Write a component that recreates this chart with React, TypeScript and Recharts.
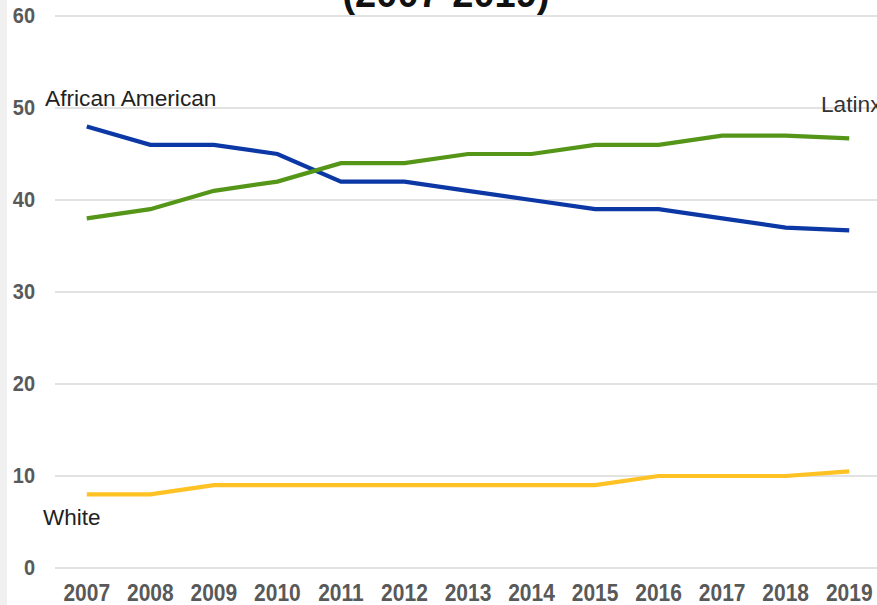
import { LineChart, Line, XAxis, YAxis, CartesianGrid, Customized } from 'recharts';

const years = [2007, 2008, 2009, 2010, 2011, 2012, 2013, 2014, 2015, 2016, 2017, 2018, 2019];
const africanAmerican = [48, 46, 46, 45, 42, 42, 41, 40, 39, 39, 38, 37, 36.7];
const latinx = [38, 39, 41, 42, 44, 44, 45, 45, 46, 46, 47, 47, 46.7];
const white = [8, 8, 9, 9, 9, 9, 9, 9, 9, 10, 10, 10, 10.5];
const yTicks = [0, 10, 20, 30, 40, 50, 60];

const data = years.map((year, i) => ({
  year,
  africanAmerican: africanAmerican[i],
  latinx: latinx[i],
  white: white[i],
}));

const FONT = '"Liberation Sans", Arial, sans-serif';
const tickColor = '#595959';

const YTick = (props: any) => {
  const { y, payload } = props;
  return (
    <text
      transform={`translate(35, ${y + 7}) scale(1, 1.08)`}
      textAnchor="end"
      fill={tickColor}
      fontSize={20}
      fontWeight="bold"
      fontFamily={FONT}
    >
      {payload.value}
    </text>
  );
};

const XTick = (props: any) => {
  const { x, payload } = props;
  return (
    <text
      transform={`translate(${x}, 601) scale(1, 1.12)`}
      textAnchor="middle"
      fill={tickColor}
      fontSize={21}
      fontWeight="bold"
      fontFamily={FONT}
    >
      {payload.value}
    </text>
  );
};

const Annotations = () => (
  <g fontFamily={FONT}>
    <rect x={0} y={0} width={7} height={605} fill="#f0f0f0" />
    <text x={446} y={7} textAnchor="middle" fontSize={38} fontWeight="bold" fill="#111">
      (2007-2019)
    </text>
    <text x={45} y={106} fontSize={22.7} fill="#222">African American</text>
    <text x={821} y={112} fontSize={22.7} fill="#333">Latinx</text>
    <text x={43} y={525} fontSize={22.5} fill="#222">White</text>
  </g>
);

export default function App() {
  return (
    <div style={{ position: 'absolute', left: 0, top: 0, width: 877, height: 605, overflow: 'hidden', background: '#fff' }}>
      <LineChart width={890} height={605} data={data} margin={{ top: 16, right: 9, bottom: 0, left: 0 }}>
        <CartesianGrid vertical={false} stroke="#d9d9d9" strokeWidth={1.5} />
        <XAxis
          dataKey="year"
          type="number"
          domain={[2006.5, 2019.5]}
          ticks={years}
          axisLine={false}
          tickLine={false}
          height={37}
          tick={<XTick />}
          interval={0}
        />
        <YAxis
          domain={[0, 60]}
          ticks={yTicks}
          axisLine={false}
          tickLine={false}
          width={55}
          tick={<YTick />}
          interval={0}
        />
        <Line dataKey="africanAmerican" stroke="#0b38a5" strokeWidth={4.2} dot={false} isAnimationActive={false} />
        <Line dataKey="latinx" stroke="#559619" strokeWidth={4.2} dot={false} isAnimationActive={false} />
        <Line dataKey="white" stroke="#ffc224" strokeWidth={4.2} dot={false} isAnimationActive={false} />
        <Customized component={Annotations} />
      </LineChart>
    </div>
  );
}
